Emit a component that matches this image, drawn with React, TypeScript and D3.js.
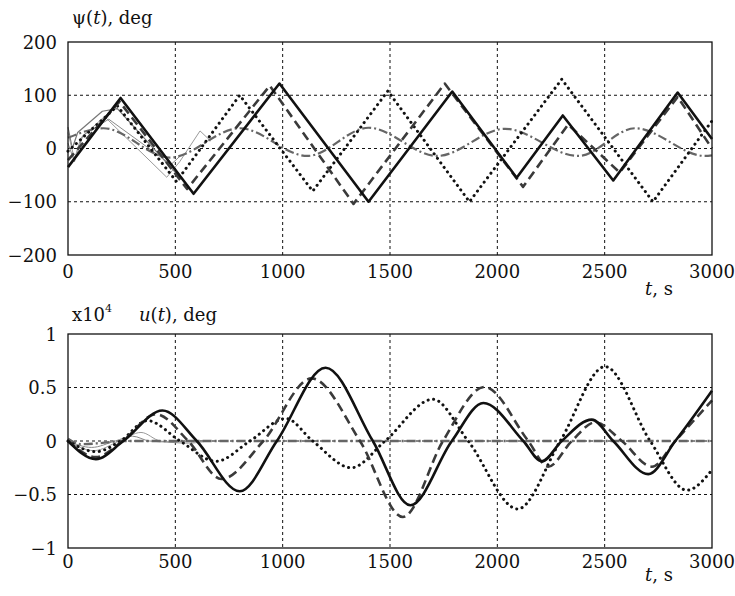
import React from "react";
import * as d3 from "d3";

// ---------- data ----------
const xTicks = [0, 500, 1000, 1500, 2000, 2500, 3000];
const psiTicks = [-200, -100, 0, 100, 200];
const psiTickLabels = ["\u2212200", "\u2212100", "0", "100", "200"];
const uTicks = [-1, -0.5, 0, 0.5, 1];
const uTickLabels = ["\u22121", "\u22120.5", "0", "0.5", "1"];

// top panel: psi(t), deg  [t, value]
const psiSolid: [number, number][] = [[0, -35], [245, 95], [585, -85], [985, 122], [1400, -100], [1790, 107], [2090, -55], [2305, 62], [2540, -60], [2840, 105], [3000, 18]];
const psiDashed: [number, number][] = [[0, -22], [240, 88], [555, -76], [940, 118], [1330, -104], [1755, 122], [2120, -72], [2330, 45], [2570, -45], [2840, 97], [3000, 0]];
const psiDotted: [number, number][] = [[0, -5], [230, 80], [505, -62], [800, 100], [1140, -80], [1490, 108], [1870, -100], [2300, 130], [2725, -100], [3000, 52]];
const psiDashDot: [number, number][] = [[0, 20], [165, 38], [475, -17], [800, 38], [1115, -14], [1400, 39], [1720, -14], [2036, 37], [2377, -14], [2642, 38], [2968, -14], [3000, -13]];
const psiThin1: [number, number][] = [[0, 30], [30, -20], [60, 20], [170, 60], [460, -54], [520, -25], [615, 33], [665, 14]];
const psiThin2: [number, number][] = [[0, 10], [30, -25], [70, 25], [190, 55], [480, -30], [520, -15]];
const psiThin3: [number, number][] = [[0, 40], [20, 0], [45, 30], [160, 70], [230, 75], [500, -45], [540, -60]];

// bottom panel: u(t), x10^4 deg
const uSolid: [number, number][] = [[0, 0], [130, -0.17], [258, 0], [440, 0.285], [600, 0], [800, -0.47], [973, 0], [1200, 0.685], [1420, 0], [1595, -0.6], [1788, 0], [1935, 0.355], [2121, 0], [2207, -0.19], [2300, 0], [2440, 0.2], [2540, 0], [2703, -0.31], [2829, 0], [3000, 0.47]];
const uDashed: [number, number][] = [[0, 0], [130, -0.15], [255, 0], [410, 0.25], [560, 0], [715, -0.355], [910, 0], [1135, 0.585], [1360, 0], [1560, -0.71], [1747, 0], [1940, 0.505], [2144, 0], [2237, -0.24], [2347, 0], [2456, 0.175], [2580, 0], [2720, -0.24], [2829, 0], [3000, 0.38]];
const uDotted: [number, number][] = [[0, 0], [130, -0.1], [245, 0], [370, 0.19], [522, 0], [690, -0.19], [848, 0], [1015, 0.21], [1140, 0], [1320, -0.25], [1477, 0], [1700, 0.39], [1864, 0], [2095, -0.635], [2293, 0], [2502, 0.695], [2712, 0], [2883, -0.46], [3000, -0.27]];
const uDashDot: [number, number][] = [[0, 0.02], [60, -0.03], [150, -0.02], [260, 0], [1000, 0], [2000, 0], [3000, 0]];
const uThin1: [number, number][] = [[0, 0], [120, -0.09], [240, 0], [340, 0.08], [430, 0], [560, -0.02], [650, 0]];
const uThin2: [number, number][] = [[0, 0], [110, -0.06], [220, 0], [300, 0.045], [380, 0], [480, -0.01], [560, 0]];

// ---------- layout ----------
const W = 735;
const H = 596;
const L = 68;
const R = 712;
const TOP1 = 42;
const BOT1 = 255;
const TOP2 = 334;
const BOT2 = 548;
const FONT = "DejaVu Serif, serif";
const FS = 18;

const x = d3.scaleLinear().domain([0, 3000]).range([L, R]);
const y1 = d3.scaleLinear().domain([-200, 200]).range([BOT1, TOP1]);
const y2 = d3.scaleLinear().domain([-1, 1]).range([BOT2, TOP2]);

function T({ x: tx, y: ty, anchor = "start", size = FS, children }: any) {
  return (
    <text x={tx} y={ty} textAnchor={anchor} fill="#111" style={{ fontFamily: FONT, fontSize: size + "px" }}>
      {children}
    </text>
  );
}

type S = { data: [number, number][]; stroke: string; width: number; dash?: string; cap?: string; curve: any };

function Panel({ y, top, bot, ticks, labels, series }: any) {
  return (
    <g>
      {xTicks.slice(1, -1).map((t) => (
        <line key={"gx" + t} x1={x(t)} x2={x(t)} y1={top} y2={bot} stroke="#111" strokeWidth={1} strokeDasharray="3,3" />
      ))}
      {ticks.slice(1, -1).map((t: number) => (
        <line key={"gy" + t} x1={L} x2={R} y1={y(t)} y2={y(t)} stroke="#111" strokeWidth={1} strokeDasharray="3,3" />
      ))}
      {series.map((s: S, i: number) => {
        const gen = d3.line<[number, number]>().x((d) => x(d[0])).y((d) => y(d[1])).curve(s.curve);
        return (
          <path key={i} d={gen(s.data) || ""} fill="none" stroke={s.stroke} strokeWidth={s.width} strokeDasharray={s.dash} strokeLinecap={(s.cap as any) || "butt"} strokeLinejoin="round" />
        );
      })}
      <rect x={L} y={top} width={R - L} height={bot - top} fill="none" stroke="#111" strokeWidth={1.3} />
      {ticks.map((t: number, i: number) => (
        <T key={"yl" + t} x={57} y={y(t) + 6.5} anchor="end">{labels[i]}</T>
      ))}
    </g>
  );
}

export default function App() {
  const lin = d3.curveLinear;
  const mono = d3.curveMonotoneX;
  const topSeries: S[] = [
    { data: psiThin3, stroke: "#777", width: 1.2, curve: lin },
    { data: psiThin1, stroke: "#9a9a9a", width: 1, curve: lin },
    { data: psiThin2, stroke: "#8a8a8a", width: 1, curve: lin },
    { data: psiDashDot, stroke: "#666", width: 2.2, dash: "9,3,2,3", curve: mono },
    { data: psiDotted, stroke: "#111", width: 3, dash: "0.1,5.5", cap: "round", curve: lin },
    { data: psiDashed, stroke: "#3a3a3a", width: 2.6, dash: "9,5", curve: lin },
    { data: psiSolid, stroke: "#111", width: 2.6, curve: lin },
  ];
  const botSeries: S[] = [
    { data: uThin1, stroke: "#9a9a9a", width: 1, curve: mono },
    { data: uThin2, stroke: "#8a8a8a", width: 1, curve: mono },
    { data: uDashDot, stroke: "#666", width: 2.4, dash: "9,3,2,3", curve: mono },
    { data: uDotted, stroke: "#111", width: 3, dash: "0.1,5.5", cap: "round", curve: mono },
    { data: uDashed, stroke: "#3a3a3a", width: 2.6, dash: "9,5", curve: mono },
    { data: uSolid, stroke: "#111", width: 2.6, curve: mono },
  ];
  return (
    <svg width={W} height={H} style={{ position: "absolute", left: 0, top: 0, background: "#fff" }}>
      <rect width={W} height={H} fill="#fff" />
      <Panel y={y1} top={TOP1} bot={BOT1} ticks={psiTicks} labels={psiTickLabels} series={topSeries} />
      <Panel y={y2} top={TOP2} bot={BOT2} ticks={uTicks} labels={uTickLabels} series={botSeries} />
      {xTicks.map((t) => (
        <T key={"xt1" + t} x={x(t)} y={278} anchor="middle">{String(t)}</T>
      ))}
      {xTicks.map((t) => (
        <T key={"xt2" + t} x={x(t)} y={568} anchor="middle">{String(t)}</T>
      ))}
      <T x={645} y={295}><tspan fontStyle="italic">t</tspan>, s</T>
      <T x={645} y={581}><tspan fontStyle="italic">t</tspan>, s</T>
      <T x={72} y={24}>ψ(<tspan fontStyle="italic">t</tspan>), deg</T>
      <T x={72} y={321}>x10<tspan fontSize={11} dy={-9}>4</tspan></T>
      <T x={139} y={321}><tspan fontStyle="italic">u</tspan>(<tspan fontStyle="italic">t</tspan>), deg</T>
    </svg>
  );
}
